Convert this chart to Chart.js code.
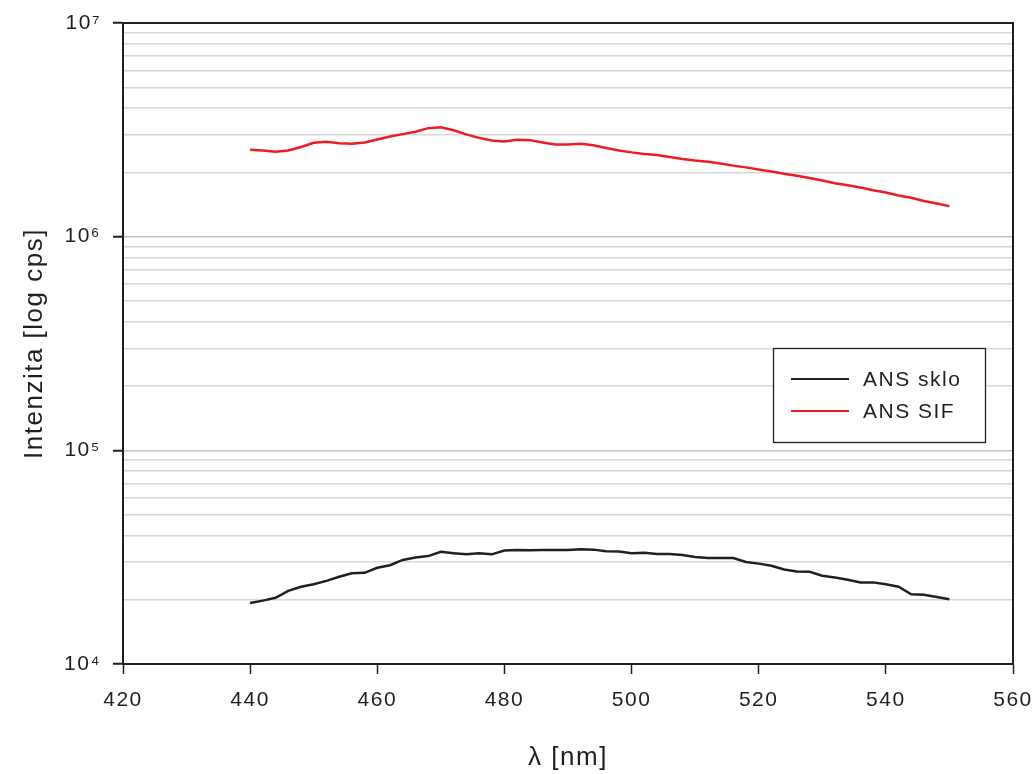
<!DOCTYPE html>
<html>
<head>
<meta charset="utf-8">
<script src="https://cdn.jsdelivr.net/npm/chart.js@4/dist/chart.umd.min.js"></script>
<style>
  html, body { margin: 0; padding: 0; background: #fff; }
  #chart { display: block; }
</style>
</head>
<body>
<canvas id="chart" width="1034" height="774"></canvas>
<script>
// vlnové délky [nm]
const wavelengths = [440, 442, 444, 446, 448, 450, 452, 454, 456, 458,
  460, 462, 464, 466, 468, 470, 472, 474, 476, 478,
  480, 482, 484, 486, 488, 490, 492, 494, 496, 498,
  500, 502, 504, 506, 508, 510, 512, 514, 516, 518,
  520, 522, 524, 526, 528, 530, 532, 534, 536, 538,
  540, 542, 544, 546, 548, 550];

// ANS sklo [cps]
const ansSklo = [19300, 19800, 20400, 22000, 23000, 23600, 24500, 25600, 26600, 26700,
  28200, 29000, 30700, 31500, 32000, 33500, 33000, 32600, 33000, 32600,
  34000, 34200, 34100, 34200, 34200, 34200, 34400, 34300, 33700, 33600,
  33000, 33200, 32700, 32700, 32400, 31700, 31300, 31300, 31300, 30000,
  29500, 28800, 27700, 27100, 27000, 25900, 25400, 24800, 24100, 24100,
  23600, 23000, 21200, 21100, 20600, 20100];

// ANS SIF [cps]
const ansSif = [2550000, 2530000, 2500000, 2530000, 2630000, 2750000, 2780000, 2740000, 2720000, 2760000,
  2850000, 2940000, 3020000, 3100000, 3220000, 3250000, 3150000, 3010000, 2900000, 2820000,
  2790000, 2840000, 2830000, 2760000, 2700000, 2700000, 2720000, 2680000, 2600000, 2530000,
  2480000, 2440000, 2410000, 2360000, 2310000, 2270000, 2240000, 2200000, 2150000, 2110000,
  2060000, 2020000, 1970000, 1930000, 1880000, 1830000, 1780000, 1740000, 1700000, 1650000,
  1610000, 1560000, 1520000, 1470000, 1430000, 1390000];

const seriesLabels = ['ANS sklo', 'ANS SIF'];
const xTicks = [420, 440, 460, 480, 500, 520, 540, 560];
const superscripts = { 4: '⁴', 5: '⁵', 6: '⁶', 7: '⁷' };

const FONT = "'Liberation Sans', Arial, Helvetica, sans-serif";
const INK = '#231f20';

function isDecade(v) {
  const e = Math.log10(v);
  return Math.abs(e - Math.round(e)) < 1e-9;
}

// širší proklad písma jako v originále (po změně velikosti plátna se stav maže)
const spacingPlugin = {
  id: 'spacing',
  beforeLayout(chart) { chart.ctx.letterSpacing = '1.5px'; },
  beforeDraw(chart) { chart.ctx.letterSpacing = '1.5px'; }
};

// rámeček kolem grafu (horní a pravá strana)
const framePlugin = {
  id: 'frame',
  afterDraw(chart) {
    const { ctx, chartArea: a } = chart;
    ctx.save();
    ctx.strokeStyle = INK;
    ctx.lineWidth = 2;
    ctx.beginPath();
    ctx.moveTo(a.left, a.top);
    ctx.lineTo(a.right, a.top);
    ctx.lineTo(a.right, a.bottom);
    ctx.stroke();
    ctx.restore();
  }
};

// legenda v pravé části grafu
const boxLegendPlugin = {
  id: 'boxLegend',
  afterDraw(chart) {
    const { ctx } = chart;
    const x = 773, y = 348, w = 212, h = 94;
    ctx.save();
    ctx.fillStyle = '#fff';
    ctx.fillRect(x, y, w, h);
    ctx.strokeStyle = INK;
    ctx.lineWidth = 1.3;
    ctx.strokeRect(x + 0.5, y + 0.5, w, h);
    ctx.font = '21px ' + FONT;
    ctx.textBaseline = 'middle';
    chart.data.datasets.forEach((ds, i) => {
      const ly = y + 31 + i * 32;
      ctx.strokeStyle = ds.borderColor;
      ctx.lineWidth = 2;
      ctx.beginPath();
      ctx.moveTo(x + 18, ly);
      ctx.lineTo(x + 76, ly);
      ctx.stroke();
      ctx.fillStyle = INK;
      ctx.fillText(ds.label, x + 90, ly + 1);
    });
    ctx.restore();
  }
};

new Chart(document.getElementById('chart'), {
  type: 'line',
  data: {
    datasets: [
      {
        label: seriesLabels[0],
        data: wavelengths.map((x, i) => ({ x: x, y: ansSklo[i] })),
        borderColor: INK,
        borderWidth: 2.5,
        pointRadius: 0,
        tension: 0
      },
      {
        label: seriesLabels[1],
        data: wavelengths.map((x, i) => ({ x: x, y: ansSif[i] })),
        borderColor: '#ed1c24',
        borderWidth: 2.5,
        pointRadius: 0,
        tension: 0
      }
    ]
  },
  options: {
    responsive: false,
    animation: false,
    layout: { padding: { left: 0, top: 23, right: 21, bottom: 0 } },
    plugins: {
      legend: { display: false },
      tooltip: { enabled: false }
    },
    scales: {
      x: {
        type: 'linear',
        min: 420,
        max: 560,
        afterBuildTicks(scale) {
          scale.ticks = xTicks.map(v => ({ value: v }));
        },
        afterFit(scale) {
          scale.height = 110;
          scale.paddingLeft = 0;
          scale.paddingRight = 0;
        },
        grid: { drawOnChartArea: false, tickLength: 10, tickColor: INK, tickWidth: 1.5 },
        border: { color: INK, width: 2 },
        ticks: {
          color: INK,
          padding: 14,
          font: { family: FONT, size: 21 },
          maxRotation: 0
        },
        title: {
          display: true,
          text: 'λ [nm]',
          color: INK,
          padding: 1,
          font: { family: FONT, size: 26, lineHeight: 1.2 }
        }
      },
      y: {
        type: 'logarithmic',
        min: 1e4,
        max: 1e7,
        afterBuildTicks(scale) {
          const t = [];
          for (let e = 4; e < 7; e++) {
            for (let m = 1; m < 10; m++) t.push({ value: m * Math.pow(10, e) });
          }
          t.push({ value: 1e7 });
          scale.ticks = t;
        },
        afterFit(scale) {
          scale.width = 123;
          scale.paddingTop = 0;
          scale.paddingBottom = 0;
        },
        grid: {
          color: ctx => (ctx.tick && isDecade(ctx.tick.value)) ? '#c4c4c4' : '#d8d8d8',
          lineWidth: 1.5,
          tickLength: 10,
          tickWidth: 2,
          tickColor: ctx => (ctx.tick && isDecade(ctx.tick.value)) ? INK : 'rgba(0,0,0,0)'
        },
        border: { color: INK, width: 2 },
        ticks: {
          autoSkip: false,
          color: INK,
          padding: 12,
          font: { family: FONT, size: 21 },
          callback(value) {
            if (!isDecade(value)) return '';
            return '10' + superscripts[Math.round(Math.log10(value))];
          }
        },
        title: {
          display: true,
          text: 'Intenzita [log cps]',
          color: INK,
          padding: 19,
          font: { family: FONT, size: 26, lineHeight: 1.2 }
        }
      }
    }
  },
  plugins: [spacingPlugin, framePlugin, boxLegendPlugin]
});
</script>
</body>
</html>
